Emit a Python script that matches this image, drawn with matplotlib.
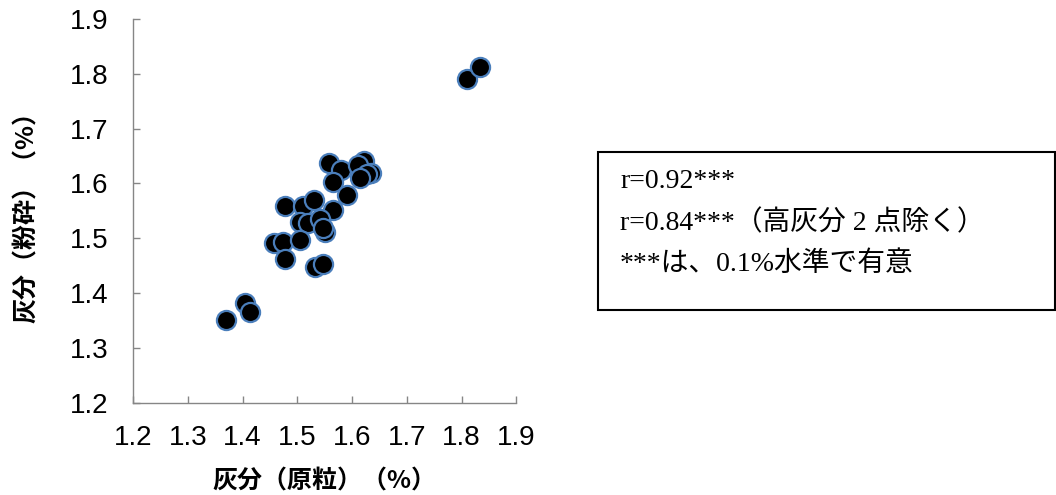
import matplotlib
matplotlib.use('Agg')
import matplotlib.pyplot as plt
from matplotlib.patches import Rectangle

# ==================== データ ====================
# 灰分（原粒） vs 灰分（粉砕）
ash_grain = [1.810, 1.833, 1.369, 1.405, 1.413, 1.557, 1.580, 1.621, 1.610, 1.635,
             1.627, 1.615, 1.565, 1.591, 1.478, 1.511, 1.531, 1.566, 1.505, 1.520,
             1.541, 1.551, 1.546, 1.458, 1.474, 1.505, 1.478, 1.533, 1.547]
ash_milled = [1.791, 1.813, 1.352, 1.382, 1.366, 1.638, 1.624, 1.641, 1.634, 1.619,
              1.618, 1.609, 1.602, 1.579, 1.558, 1.558, 1.570, 1.552, 1.530, 1.527,
              1.536, 1.512, 1.519, 1.491, 1.494, 1.497, 1.462, 1.448, 1.453]
ticks = [1.2, 1.3, 1.4, 1.5, 1.6, 1.7, 1.8, 1.9]
stat_lines = ['r=0.92***', 'r=0.84***（高灰分 2 点除く）', '***は、0.1%水準で有意']

JP_FONT = ['Noto Sans CJK JP', 'DejaVu Sans']
SERIF_FONT = ['Liberation Serif', 'Noto Sans CJK JP']
AXIS_GREY = '#868686'

plt.rcParams['font.family'] = ['Liberation Sans', 'Noto Sans CJK JP']

fig = plt.figure(figsize=(10.56, 4.95), dpi=100)
ax = fig.add_axes([0.126, 0.186, 0.363, 0.776])

ax.scatter(ash_grain, ash_milled, s=190, c='black', edgecolors='#4A7EBB',
           linewidths=1.6, zorder=3, clip_on=False)

ax.set_xlim(1.2, 1.9)
ax.set_ylim(1.2, 1.9)
ax.set_xticks(ticks)
ax.set_yticks(ticks)
ax.set_xticklabels([f'{t:.1f}' for t in ticks])
ax.set_yticklabels([f'{t:.1f}' for t in ticks])

for side in ['top', 'right']:
    ax.spines[side].set_visible(False)
for side in ['left', 'bottom']:
    ax.spines[side].set_color(AXIS_GREY)
    ax.spines[side].set_linewidth(1.0)
ax.tick_params(axis='both', direction='in', length=5, width=1.0, color=AXIS_GREY,
               labelsize=20)
ax.tick_params(axis='y', pad=18)
ax.tick_params(axis='x', pad=16)

ax.set_xlabel('灰分（原粒）（%）', family=JP_FONT, fontsize=18, fontweight='bold',
              labelpad=13)
ax.set_ylabel('灰分（粉砕）（%）', family=JP_FONT, fontsize=18, fontweight='bold',
              labelpad=22)

# 統計テキストボックス
box = Rectangle((598 / 1056, 1 - 310 / 495), (1055 - 598) / 1056, (310 - 152) / 495,
                transform=fig.transFigure, fill=False, edgecolor='black', lw=1.5)
fig.patches.append(box)
for i, line in enumerate(stat_lines):
    fig.text(620 / 1056, 1 - (182 + 41 * i) / 495, line, family=SERIF_FONT,
             fontsize=20, va='center', ha='left')

fig.savefig('out.png', dpi=100)
